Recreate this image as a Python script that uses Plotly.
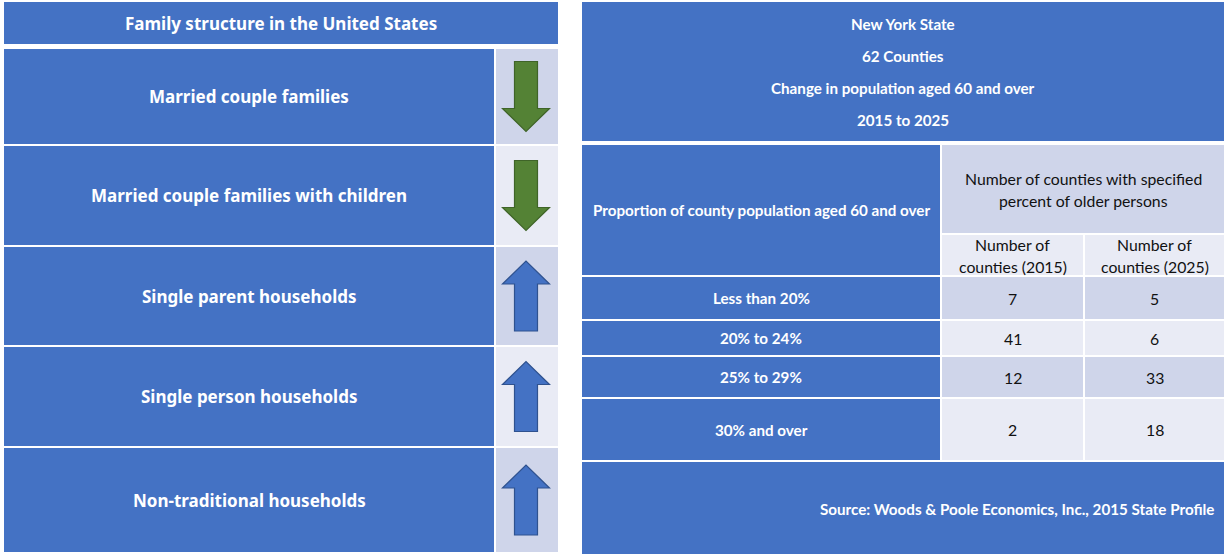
import plotly.graph_objects as go

# ---------------- data ----------------
family_title = "Family structure in the United States"
family_categories = [
    "Married couple families",
    "Married couple families with children",
    "Single parent households",
    "Single person households",
    "Non-traditional households",
]
family_trend = ["down", "down", "up", "up", "up"]

ny_title_lines = [
    "New York State",
    "62 Counties",
    "Change in population aged 60 and over",
    "2015 to 2025",
]
row_header = "Proportion of county population aged 60 and over"
group_header = ["Number of counties with specified", "percent of older persons"]
col_headers = [["Number of", "counties (2015)"], ["Number of", "counties (2025)"]]
age_groups = ["Less than 20%", "20% to 24%", "25% to 29%", "30% and over"]
counties_2015 = [7, 41, 12, 2]
counties_2025 = [5, 6, 33, 18]
source_text = "Source: Woods & Poole Economics, Inc., 2015 State Profile"

# ---------------- style / layout constants ----------------
W, H = 1224, 554
BLUE = "#4472C4"
LIGHT_DARK = "#CFD5EA"
LIGHT_LIGHT = "#E9EBF5"
GREEN = "#548235"
GREEN_LINE = "#3F6428"
BLUE_LINE = "#2F528F"
LEFT_FONT = "Noto Sans"
RIGHT_FONT = "Lato"
LEFT_SIZE = 17
RIGHT_BOLD_SIZE = 15.2
RIGHT_REG_SIZE = 15.8

# left panel geometry
L_X0, L_TX1, L_AX0, L_X1 = 4, 494, 496, 558
L_HEAD = (2, 44)
L_ROWS = [(49, 144), (146, 245), (247, 345), (347, 446), (448, 552)]
ARROW_CX = 526
ARROW_LEN, SHAFT_HW, HEAD_HW, HEAD_LEN = 70, 11.5, 23.5, 23

# right panel geometry
R_X0, R_S1, R_S2, R_X1 = 582, 940, 1084, 1224
R_HEAD = (2, 141)
R_TABLE_HEAD = (145, 275)
R_GROUP = (145, 233)
R_SUB = (235, 275)
R_ROWS = [(277, 319), (321, 355), (357, 397), (399, 460)]
R_SOURCE = (462, 554)
R_HEAD_LINE_Y = [24, 56, 88, 120]

shapes = []
annotations = []


def rect(x0, y0, x1, y1, color):
    shapes.append(dict(type="rect", xref="x", yref="y", x0=x0, x1=x1, y0=y0, y1=y1,
                       fillcolor=color, line=dict(width=0), layer="below"))


def text(x, y, s, size, color="white", bold=True, family=RIGHT_FONT, xanchor="center"):
    annotations.append(dict(x=x, y=y, xref="x", yref="y", text=f"<b>{s}</b>" if bold else s,
                            showarrow=False, xanchor=xanchor, yanchor="middle",
                            font=dict(size=size, color=color, family=family)))


def multiline(x, yc, lines, size, spacing, **kw):
    n = len(lines)
    for i, ln in enumerate(lines):
        text(x, yc + (i - (n - 1) / 2) * spacing, ln, size, **kw)


def arrow_path(cx, cy, direction):
    half = ARROW_LEN / 2
    if direction == "down":
        top, tip = cy - half, cy + half
        hb = tip - HEAD_LEN
    else:
        top, tip = cy + half, cy - half
        hb = tip + HEAD_LEN
    pts = [(cx - SHAFT_HW, top), (cx + SHAFT_HW, top), (cx + SHAFT_HW, hb), (cx + HEAD_HW, hb),
           (cx, tip), (cx - HEAD_HW, hb), (cx - SHAFT_HW, hb)]
    return "M " + " L ".join(f"{x},{y}" for x, y in pts) + " Z"


# ---------------- left panel ----------------
rect(L_X0, L_HEAD[0], L_X1, L_HEAD[1], BLUE)
text((L_X0 + L_X1) / 2, sum(L_HEAD) / 2, family_title, LEFT_SIZE, family=LEFT_FONT)
for i, (cat, trend) in enumerate(zip(family_categories, family_trend)):
    y0, y1 = L_ROWS[i]
    rect(L_X0, y0, L_TX1, y1, BLUE)
    rect(L_AX0, y0, L_X1, y1, LIGHT_DARK if i % 2 == 0 else LIGHT_LIGHT)
    text((L_X0 + L_TX1) / 2, (y0 + y1) / 2, cat, LEFT_SIZE, family=LEFT_FONT)
    fill, line = (GREEN, GREEN_LINE) if trend == "down" else (BLUE, BLUE_LINE)
    shapes.append(dict(type="path", xref="x", yref="y", path=arrow_path(ARROW_CX, (y0 + y1) / 2, trend),
                       fillcolor=fill, line=dict(color=line, width=1.2), layer="above"))

# ---------------- right panel ----------------
rect(R_X0, R_HEAD[0], R_X1, R_HEAD[1], BLUE)
for ln, y in zip(ny_title_lines, R_HEAD_LINE_Y):
    text((R_X0 + R_X1) / 2, y, ln, RIGHT_BOLD_SIZE)

rect(R_X0, R_TABLE_HEAD[0], R_S1, R_TABLE_HEAD[1], BLUE)
text((R_X0 + R_S1) / 2, sum(R_TABLE_HEAD) / 2, row_header, RIGHT_BOLD_SIZE)
rect(R_S1 + 2, R_GROUP[0], R_X1, R_GROUP[1], LIGHT_DARK)
multiline((R_S1 + 2 + R_X1) / 2, sum(R_GROUP) / 2, group_header, RIGHT_REG_SIZE, 22,
          color="#111111", bold=False)
sub_cols = [(R_S1 + 2, R_S2 - 1), (R_S2 + 1, R_X1)]
for (cx0, cx1), hdr in zip(sub_cols, col_headers):
    rect(cx0, R_SUB[0], cx1, R_SUB[1], LIGHT_LIGHT)
    multiline((cx0 + cx1) / 2, sum(R_SUB) / 2, hdr, RIGHT_REG_SIZE, 22, color="#111111", bold=False)

for i, (grp, v15, v25) in enumerate(zip(age_groups, counties_2015, counties_2025)):
    y0, y1 = R_ROWS[i]
    yc = (y0 + y1) / 2
    shade = LIGHT_DARK if i % 2 == 0 else LIGHT_LIGHT
    rect(R_X0, y0, R_S1, y1, BLUE)
    text((R_X0 + R_S1) / 2, yc, grp, RIGHT_BOLD_SIZE)
    for (cx0, cx1), v in zip(sub_cols, [v15, v25]):
        rect(cx0, y0, cx1, y1, shade)
        text((cx0 + cx1) / 2, yc, str(v), RIGHT_REG_SIZE, color="#111111", bold=False)

rect(R_X0, R_SOURCE[0], R_X1, R_SOURCE[1], BLUE)
text(R_X1 - 8, 509, source_text, RIGHT_BOLD_SIZE, xanchor="right")

fig = go.Figure()
fig.add_trace(go.Scatter(x=[0, W], y=[0, H], mode="markers", marker=dict(opacity=0),
                         hoverinfo="skip", showlegend=False))
fig.update_layout(
    width=W, height=H, margin=dict(l=0, r=0, t=0, b=0),
    paper_bgcolor="white", plot_bgcolor="white",
    xaxis=dict(range=[0, W], visible=False, fixedrange=True),
    yaxis=dict(range=[H, 0], visible=False, fixedrange=True),
    shapes=shapes, annotations=annotations, showlegend=False,
)
# remove the default body margin so the figure sits at the page origin
fig.write_html("out.html", config={"displayModeBar": False},
               post_script="document.body.style.margin='0';document.body.style.overflow='hidden';")
